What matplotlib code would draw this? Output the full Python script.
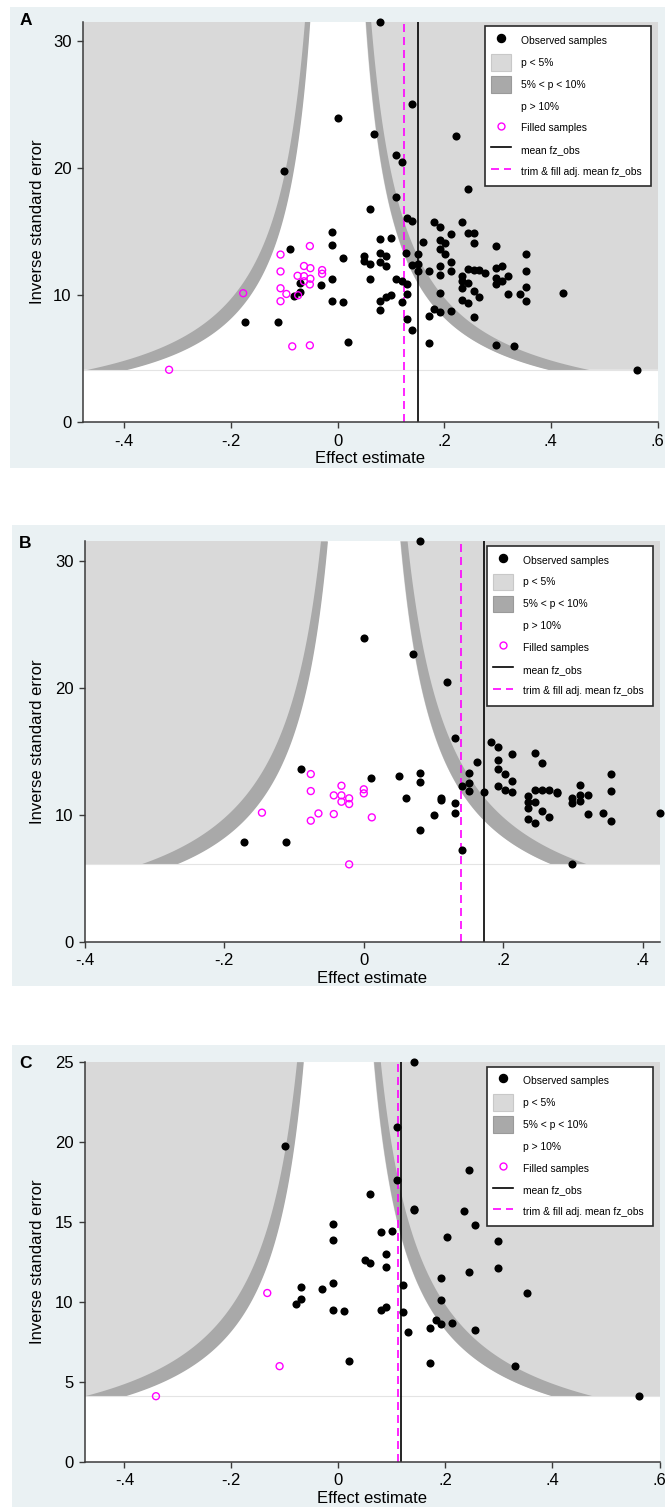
import numpy as np
import matplotlib.pyplot as plt
from matplotlib.lines import Line2D
from matplotlib.patches import Patch, Rectangle

plt.rcParams["font.family"] = ["Liberation Sans", "DejaVu Sans"]

# ---- panel A ----
a_obs_x = [0.079, 0.140, 0.0, 0.069, 0.223, 0.110, 0.120, -0.101, 0.244, 0.110,
           0.060, 0.130, 0.140, 0.181, 0.192, 0.233, 0.244, 0.255, 0.213, -0.010,
           0.079, 0.100, 0.160, 0.192, 0.202, 0.192, 0.255, 0.298, -0.010, -0.090,
           0.129, 0.151, 0.202, 0.354, 0.049, 0.079, 0.090, 0.0095, 0.049, 0.060,
           0.079, 0.090, 0.140, 0.151, 0.213, 0.192, 0.171, 0.151, 0.192, 0.213,
           0.233, 0.244, 0.255, 0.266, 0.276, 0.298, 0.309, 0.319, 0.298, 0.309,
           0.354, -0.010, 0.060, 0.110, 0.120, 0.130, -0.031, 0.233, 0.244, 0.233,
           0.298, 0.354, -0.071, -0.071, -0.081, 0.192, 0.130, 0.100, 0.090, 0.255,
           0.266, 0.319, 0.343, 0.423, 0.233, 0.244, 0.354, -0.010, 0.0095, 0.079,
           0.120, 0.079, 0.181, 0.192, 0.213, 0.171, 0.255, -0.173, -0.111, 0.130,
           0.140, 0.020, 0.171, 0.298, 0.331, 0.562]
a_obs_y = [31.53, 25.08, 23.93, 22.65, 22.49, 21.02, 20.47, 19.79, 18.32, 17.69,
           16.78, 16.09, 15.81, 15.73, 15.36, 15.75, 14.86, 14.86, 14.84, 14.94,
           14.42, 14.47, 14.18, 14.31, 14.08, 13.63, 14.08, 13.87, 13.92, 13.6,
           13.32, 13.24, 13.24, 13.21, 13.1, 13.3, 13.1, 12.9, 12.69, 12.48,
           12.58, 12.27, 12.35, 12.45, 12.63, 12.32, 11.9, 11.9, 11.59, 11.9,
           11.53, 12.03, 12.0, 12.0, 11.74, 12.16, 12.32, 11.53, 11.32, 11.14,
           11.9, 11.27, 11.27, 11.27, 11.14, 10.88, 10.83, 11.14, 11.0, 10.59,
           10.88, 10.62, 11.0, 10.22, 9.96, 10.17, 10.09, 10.01, 9.83, 10.33,
           9.83, 10.09, 10.09, 10.17, 9.65, 9.38, 9.54, 9.57, 9.46, 9.57,
           9.44, 8.81, 8.89, 8.7, 8.75, 8.39, 8.26, 7.92, 7.86, 8.15,
           7.26, 6.34, 6.21, 6.11, 6.03, 4.14]
a_fill_x = [-0.316, -0.177, -0.107, -0.107, -0.107, -0.107, -0.096, -0.085, -0.074, -0.075,
            -0.063, -0.063, -0.063, -0.052, -0.051, -0.051, -0.052, -0.029, -0.029, -0.052]
a_fill_y = [4.14, 10.16, 13.2, 11.87, 10.55, 9.53, 10.1, 5.98, 10.0, 11.53,
            11.5, 12.3, 11.1, 13.87, 12.13, 11.3, 10.85, 11.98, 11.69, 6.06]
a_mean = 0.151
a_adj = 0.124

# ---- panel B ----
b_obs_x = [0.080, 0.0, 0.070, 0.120, 0.131, 0.182, 0.193, 0.213, 0.245, 0.162,
           0.193, 0.255, -0.090, 0.193, 0.080, 0.151, 0.202, 0.354, 0.050, 0.0097,
           0.213, 0.080, 0.151, 0.141, 0.193, 0.310, 0.151, 0.172, 0.202, 0.213,
           0.245, 0.255, 0.266, 0.277, 0.354, 0.235, 0.277, 0.298, 0.310, 0.321,
           0.310, 0.298, 0.060, 0.110, 0.110, 0.131, 0.235, 0.245, 0.235, 0.255,
           0.131, 0.100, 0.321, 0.343, 0.424, 0.235, 0.266, 0.245, 0.354, 0.080,
           -0.172, -0.111, 0.141, 0.298]
b_obs_y = [31.55, 23.91, 22.62, 20.45, 16.06, 15.70, 15.33, 14.80, 14.83, 14.15,
           14.28, 14.04, 13.57, 13.6, 13.31, 13.25, 13.2, 13.2, 13.07, 12.86,
           12.62, 12.55, 12.47, 12.28, 12.28, 12.31, 11.89, 11.81, 11.94, 11.81,
           11.94, 11.94, 11.94, 11.81, 11.86, 11.47, 11.68, 11.29, 11.55, 11.52,
           11.1, 10.94, 11.29, 11.29, 11.15, 10.89, 11.02, 11.0, 10.5, 10.31,
           10.1, 9.97, 10.05, 10.1, 10.16, 9.63, 9.79, 9.37, 9.53, 8.79,
           7.87, 7.82, 7.22, 6.09]
b_fill_x = [-0.146, -0.076, -0.076, -0.076, -0.065, -0.043, -0.043, -0.032, -0.032, -0.032,
            -0.021, -0.021, 0.0, 0.0, 0.0115, -0.021]
b_fill_y = [10.16, 13.2, 11.86, 9.53, 10.1, 10.05, 11.52, 12.28, 11.52, 11.02,
            11.29, 10.84, 12.0, 11.68, 9.79, 6.09]
b_mean = 0.172
b_adj = 0.139

# ---- panel C ----
c_obs_x = [0.141, 0.109, -0.0998, 0.244, 0.109, 0.059, 0.141, 0.141, 0.234, 0.255,
           -0.0095, 0.079, 0.100, 0.202, 0.299, -0.0095, 0.0895, 0.050, 0.059, 0.0895,
           0.299, 0.244, 0.192, -0.0095, 0.120, -0.0705, -0.030, 0.353, -0.0705, 0.192,
           -0.080, 0.0895, -0.0095, 0.079, 0.010, 0.120, 0.182, 0.192, 0.212, 0.172,
           0.255, 0.130, 0.020, 0.172, 0.330, 0.562]
c_obs_y = [25.04, 20.98, 19.77, 18.27, 17.65, 16.73, 15.81, 15.73, 15.69, 14.81,
           14.9, 14.38, 14.44, 14.04, 13.83, 13.9, 13.02, 12.65, 12.44, 12.19,
           12.1, 11.9, 11.52, 11.21, 11.08, 10.94, 10.79, 10.56, 10.19, 10.13,
           9.9, 9.69, 9.52, 9.52, 9.42, 9.38, 8.85, 8.65, 8.71, 8.35,
           8.23, 8.1, 6.31, 6.15, 5.98, 4.1]
c_fill_x = [-0.133, -0.110, -0.341]
c_fill_y = [10.56, 5.98, 4.1]
c_mean = 0.1165
c_adj = 0.111

x_ticks = [-0.4, -0.2, 0, 0.2, 0.4, 0.6]
x_tick_labels = ["-.4", "-.2", "0", ".2", ".4", ".6"]
ab_y_ticks = [0, 10, 20, 30]
c_y_ticks = [0, 5, 10, 15, 20, 25]

legend_labels = ["Observed samples", "p < 5%", "5% < p < 10%", "p > 10%",
                 "Filled samples", "mean fz_obs", "trim & fill adj. mean fz_obs"]

# significance contours (two sided z)
z_05 = 1.96
z_10 = 1.645

BG = "#EAF1F3"
LIGHT = "#D9D9D9"
DARK = "#A9A9A9"
AXC = "#3A3A3A"
MAG = "#FF00FF"
DASH = (0, (4.8, 3))

W, H = 665, 1507
fig = plt.figure(figsize=(W / 100, H / 100), dpi=100)


def fig_rect(x0, y0, x1, y1):
    """pixel box measured from the top-left corner -> figure fractions"""
    return [x0 / W, 1 - y1 / H, (x1 - x0) / W, (y1 - y0) / H]


def funnel(ax, obs_x, obs_y, fill_x, fill_y, mean, adj, xlim, yticks, box):
    y_top = max(obs_y)
    y_low = min(min(obs_y), min(fill_y))
    yy = np.linspace(y_low, y_top, 400)

    # p < 5% outside the 10% curve, the 5-10% band laid on top
    ax.fill_betweenx(yy, -5, -z_10 / yy, color=LIGHT, lw=0, zorder=1)
    ax.fill_betweenx(yy, z_10 / yy, 5, color=LIGHT, lw=0, zorder=1)
    ax.fill_betweenx(yy, -z_05 / yy, -z_10 / yy, color=DARK, lw=0, zorder=1.1)
    ax.fill_betweenx(yy, z_10 / yy, z_05 / yy, color=DARK, lw=0, zorder=1.1)
    ax.axhline(y_low, color="#E4E4E4", lw=0.8, zorder=1.2)

    ax.axvline(mean, color="black", lw=1.2, zorder=2)
    ax.axvline(adj, color=MAG, lw=1.2, ls=DASH, zorder=2.1)

    ax.scatter(obs_x, obs_y, s=34, color="black", lw=0, zorder=3, clip_on=False)
    ax.scatter(fill_x, fill_y, s=25, facecolors="none", edgecolors=MAG,
               linewidths=1.0, zorder=3.1, clip_on=False)

    # ticks first: set_xticks would widen the view otherwise
    ax.set_xticks(x_ticks)
    ax.set_xticklabels(x_tick_labels)
    ax.set_yticks(yticks)
    ax.set_xlim(xlim)
    ax.set_ylim(0, y_top)

    for s in ["top", "right"]:
        ax.spines[s].set_visible(False)
    for s in ["left", "bottom"]:
        ax.spines[s].set_color(AXC)
        ax.spines[s].set_linewidth(1.1)
    ax.tick_params(direction="out", length=4.5, width=1.0, color=AXC,
                   labelsize=12, pad=3.5)

    ax_w = box[2] - box[0]
    ax_h = box[3] - box[1]
    ax.set_xlabel("Effect estimate", fontsize=12, va="center")
    ax.xaxis.set_label_coords(0.5, -36.6 / ax_h)
    ax.set_ylabel("Inverse standard error", fontsize=12, va="center")
    ax.yaxis.set_label_coords((37.5 - box[0]) / ax_w, 0.5)

    handles = [
        Line2D([], [], ls="none", marker="o", ms=5.8, mfc="black", mec="black"),
        Patch(facecolor=LIGHT, edgecolor="#C8C8C8", lw=0.8),
        Patch(facecolor=DARK, edgecolor="#9A9A9A", lw=0.8),
        Patch(facecolor="white", edgecolor="none"),
        Line2D([], [], ls="none", marker="o", ms=5.0, mfc="none", mec=MAG, mew=1.0),
        Line2D([], [], color="black", lw=1.2),
        Line2D([], [], color=MAG, lw=1.2, ls=DASH),
    ]
    leg = ax.legend(handles, legend_labels, loc="upper left",
                    bbox_to_anchor=(0.700, 0.59, 0.289, 0.398), mode="expand",
                    borderaxespad=0, fontsize=7.4, handlelength=1.95,
                    handleheight=2.12, handletextpad=0.93, labelspacing=0.5,
                    borderpad=0.6, fancybox=False, framealpha=1,
                    edgecolor="#2B2B2B")
    leg.get_frame().set_linewidth(1.2)
    leg.set_zorder(5)


panels = [
    ("A", (10, 7, 665, 468), (82.7, 21.5, 657.5, 422.4), (26, 20.5),
     a_obs_x, a_obs_y, a_fill_x, a_fill_y, a_mean, a_adj, (-0.478, 0.6), ab_y_ticks),
    ("B", (12, 525, 665, 986), (84.8, 541, 659.5, 941.7), (25.4, 543.3),
     b_obs_x, b_obs_y, b_fill_x, b_fill_y, b_mean, b_adj, (-0.4, 0.424), ab_y_ticks),
    ("C", (12, 1045, 665, 1507), (84.8, 1061.7, 659.5, 1461.7), (25.4, 1064),
     c_obs_x, c_obs_y, c_fill_x, c_fill_y, c_mean, c_adj, (-0.474, 0.6), c_y_ticks),
]

for letter, bg, box, lab, ox, oy, fx, fy, m, adj, xl, yt in panels:
    x0, y0, x1, y1 = fig_rect(*bg)
    fig.add_artist(Rectangle((x0, y0), x1, y1, transform=fig.transFigure,
                             facecolor=BG, edgecolor="none", zorder=-1))
    ax = fig.add_axes(fig_rect(*box))
    ax.set_facecolor("white")
    funnel(ax, ox, oy, fx, fy, m, adj, xl, yt, box)
    fig.text(lab[0] / W, 1 - lab[1] / H, letter, fontsize=12.5,
             fontweight="bold", ha="center", va="center")

fig.savefig("out.png", dpi=100)
